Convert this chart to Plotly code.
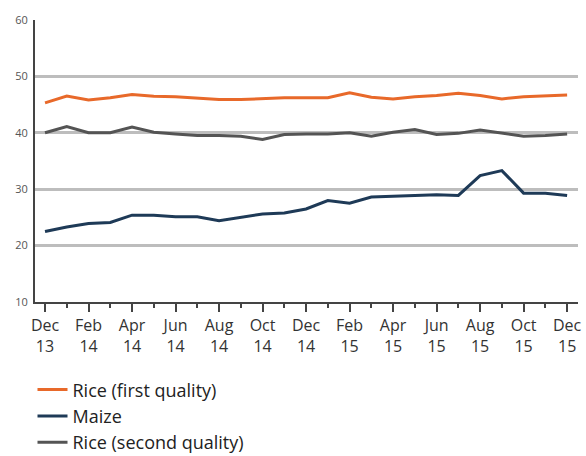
import plotly.graph_objects as go

months = ["Dec<br>13", "Jan<br>14", "Feb<br>14", "Mar<br>14", "Apr<br>14", "May<br>14", "Jun<br>14",
          "Jul<br>14", "Aug<br>14", "Sep<br>14", "Oct<br>14", "Nov<br>14", "Dec<br>14",
          "Jan<br>15", "Feb<br>15", "Mar<br>15", "Apr<br>15", "May<br>15", "Jun<br>15",
          "Jul<br>15", "Aug<br>15", "Sep<br>15", "Oct<br>15", "Nov<br>15", "Dec<br>15"]

rice_first = [45.3, 46.5, 45.8, 46.2, 46.8, 46.5, 46.4, 46.2, 45.9, 45.9, 46.1, 46.2, 46.2,
              46.2, 47.1, 46.3, 46.0, 46.4, 46.6, 47.0, 46.6, 46.0, 46.4, 46.6, 46.7]
maize = [22.5, 23.3, 23.9, 24.1, 25.4, 25.4, 25.1, 25.1, 24.4, 25.0, 25.6, 25.8, 26.5,
         28.0, 27.5, 28.6, 28.7, 28.9, 29.0, 28.9, 32.4, 33.3, 29.3, 29.3, 28.9]
rice_second = [40.0, 41.1, 40.0, 40.0, 41.0, 40.1, 39.8, 39.5, 39.5, 39.4, 38.8, 39.7, 39.8,
               39.8, 40.0, 39.4, 40.1, 40.6, 39.7, 39.9, 40.5, 40.0, 39.4, 39.5, 39.8]

y_ticks = [10, 20, 30, 40, 50, 60]

x = list(range(len(months)))
major_idx = x[::2]
major_labels = [months[i] for i in major_idx]

fig = go.Figure()
fig.add_trace(go.Scatter(x=x, y=rice_first, mode="lines", name="Rice (first quality)",
                         line=dict(color="#E8692A", width=3)))
fig.add_trace(go.Scatter(x=x, y=maize, mode="lines", name="Maize",
                         line=dict(color="#1E3A57", width=3)))
fig.add_trace(go.Scatter(x=x, y=rice_second, mode="lines", name="Rice (second quality)",
                         line=dict(color="#545454", width=3)))

fig.update_layout(
    width=586, height=456,
    margin=dict(l=35, r=8, t=20, b=154, autoexpand=False),
    paper_bgcolor="white", plot_bgcolor="white",
    font=dict(family="Open Sans, Noto Sans, sans-serif", color="#333"),
    showlegend=True,
    legend=dict(orientation="v", x=-0.0046, xanchor="left", y=-0.246, yanchor="top",
                font=dict(size=18, color="#222"), tracegroupgap=0, itemwidth=30,
                bgcolor="rgba(0,0,0,0)"),
)

fig.update_xaxes(
    range=[-0.46, 24.5],
    tickmode="array", tickvals=major_idx, ticktext=major_labels,
    ticks="outside", ticklen=8, tickwidth=2, tickcolor="#444",
    minor=dict(dtick=1, tick0=0, ticks="outside", ticklen=4, tickwidth=2, tickcolor="#444"),
    showline=True, linecolor="#444", linewidth=2,
    showgrid=False, zeroline=False,
    tickfont=dict(size=16, color="#333"),
    ticklabeloverflow="allow",
)
fig.update_yaxes(
    range=[10, 60],
    tickmode="array", tickvals=y_ticks, ticktext=[str(v) for v in y_ticks],
    ticks="", showline=True, linecolor="#444", linewidth=2,
    showgrid=True, gridcolor="#BDBDBD", gridwidth=3, zeroline=False,
    tickfont=dict(size=11, color="#555"),
    ticklabelstandoff=3,
)

fig.write_html("out.html", config={"displayModeBar": False},
               post_script="document.body.style.margin='0';document.body.style.overflow='hidden';")
